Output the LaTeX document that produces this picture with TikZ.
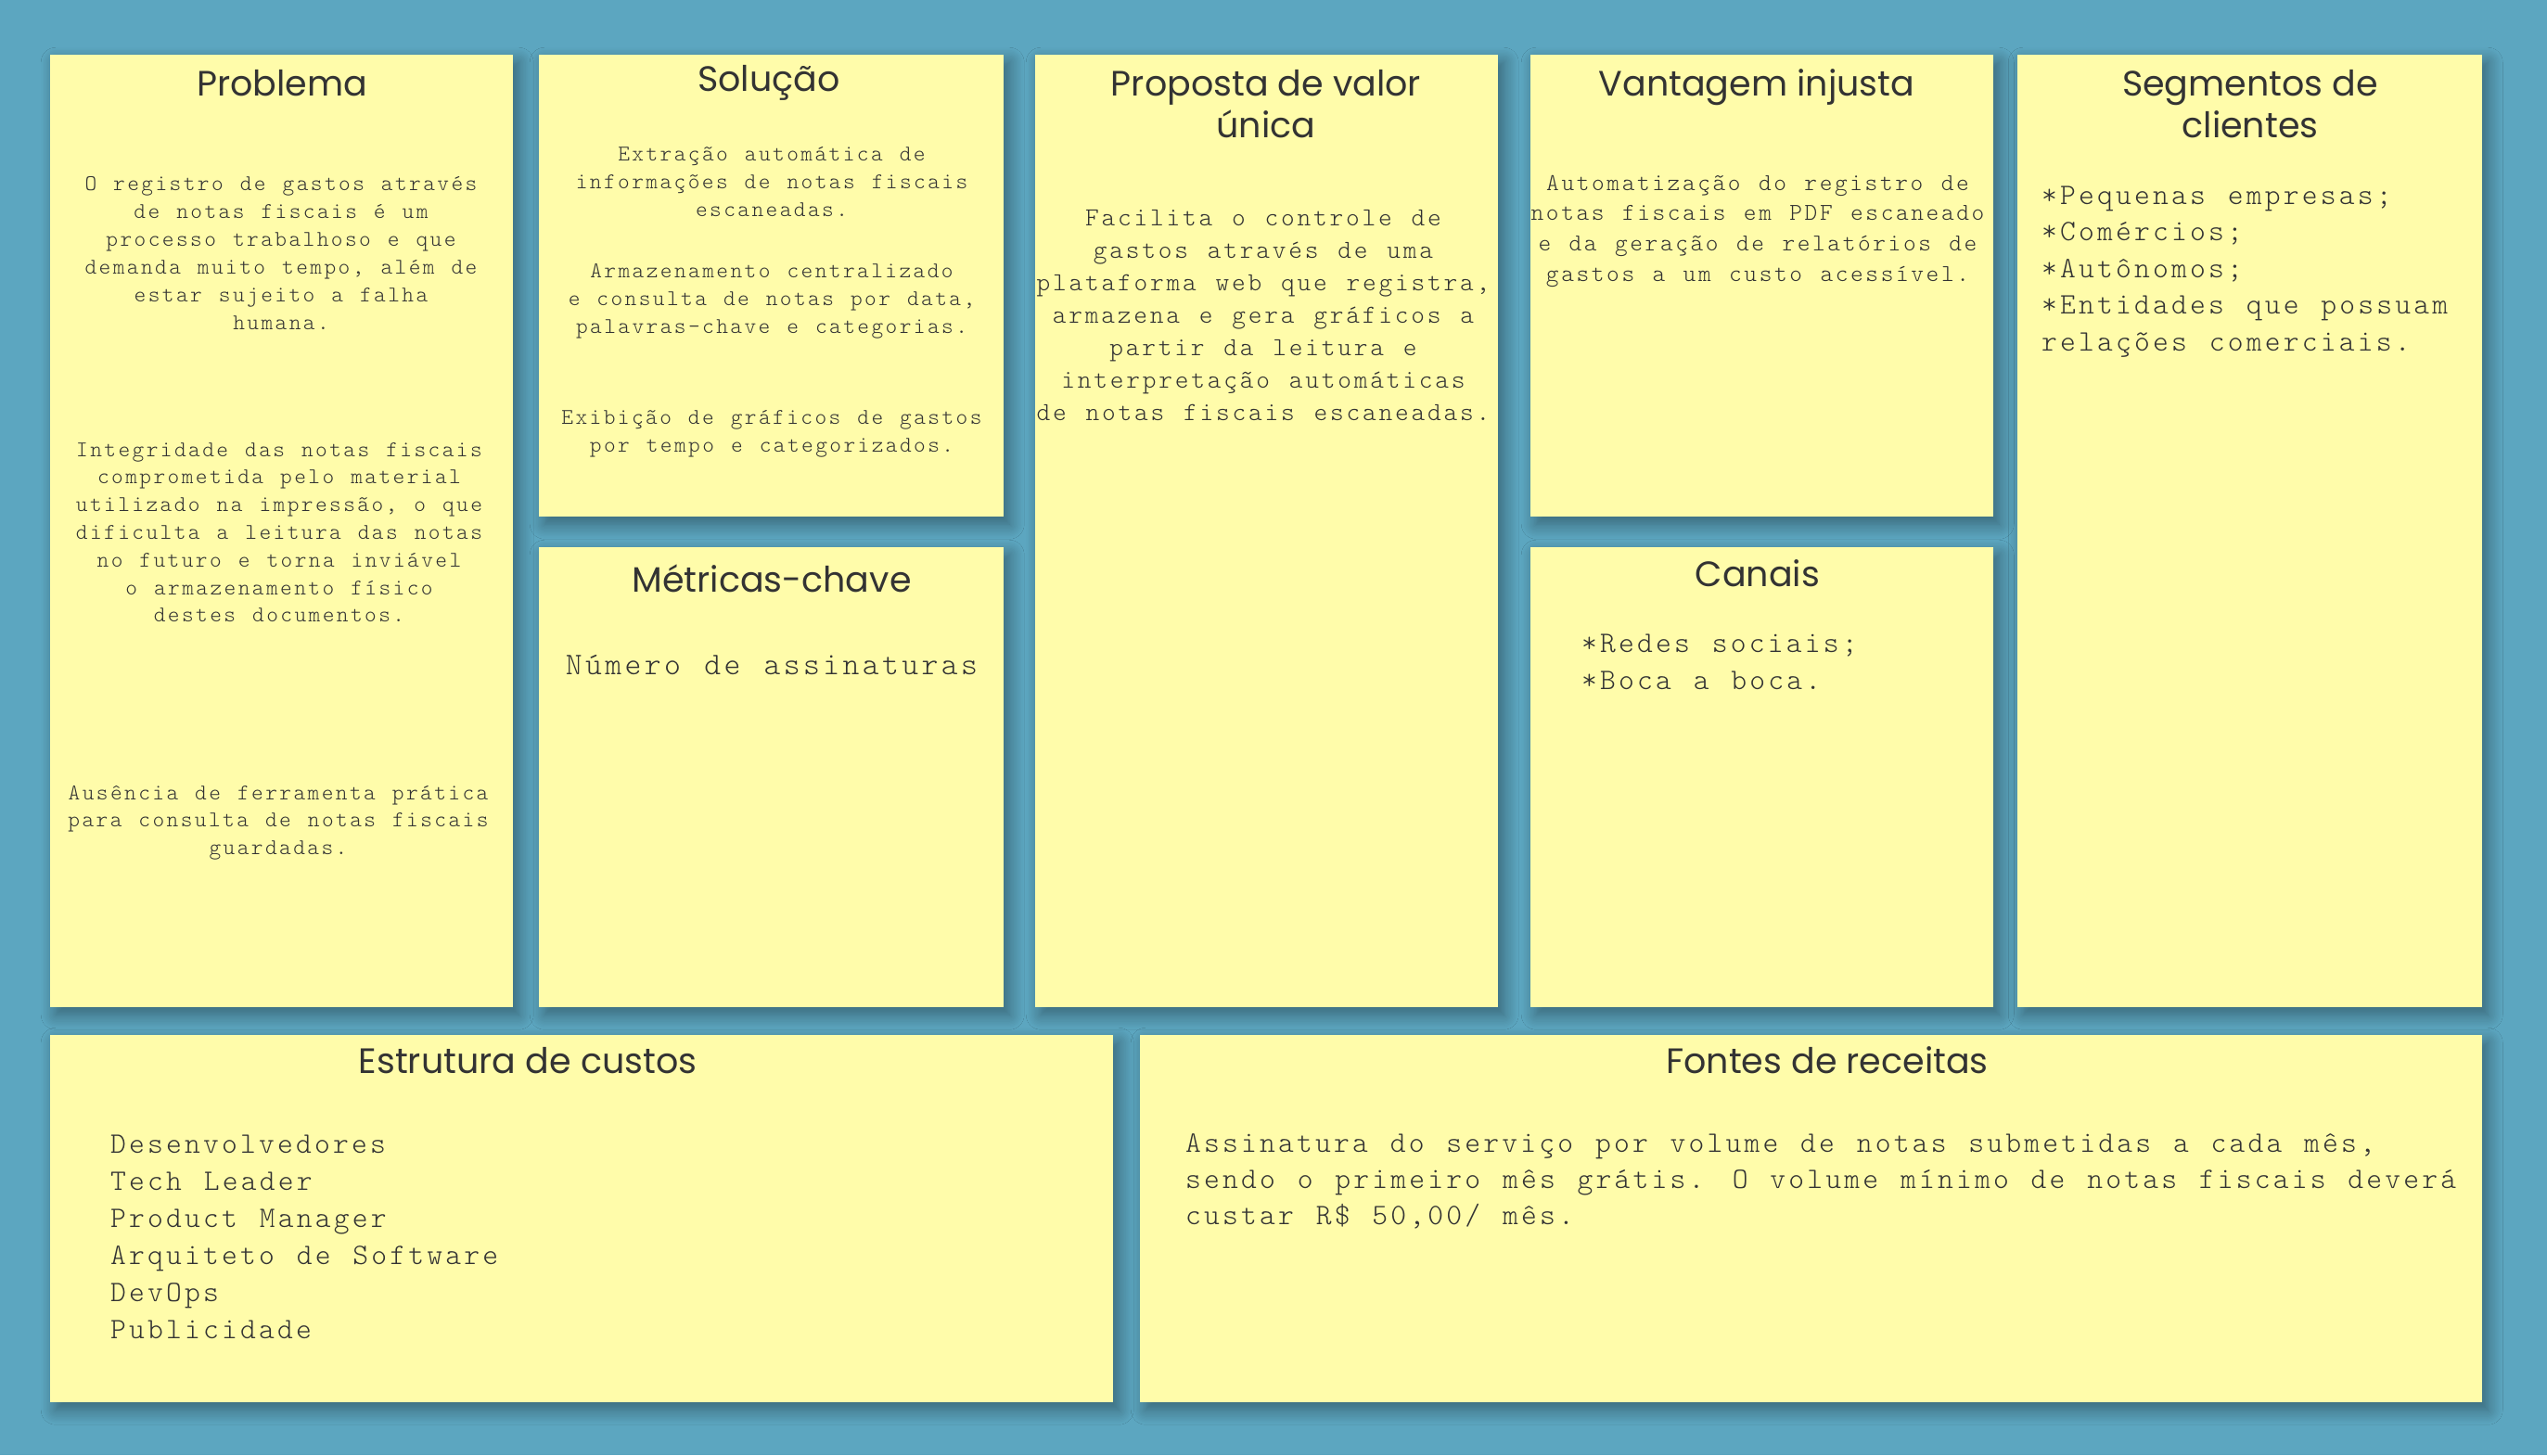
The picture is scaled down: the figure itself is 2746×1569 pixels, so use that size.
\documentclass[tikz,border=0pt]{standalone}
\usepackage{fontspec}
\usetikzlibrary{shadows.blur}
\newfontfamily\titlefont{Poppins}
\newfontfamily\cardmono{lmmonolt10-regular.otf}[LetterSpace=10, WordSpace=1.19]
\definecolor{bgblue}{RGB}{92,166,192}
\definecolor{cardyellow}{RGB}{255,252,170}
\definecolor{ink}{RGB}{51,51,51}
\newcommand\monosize[2]{\cardmono\fontsize{#1}{#2}\selectfont}
\newcommand\ctext[3]{\parbox[t]{800pt}{\centering\monosize{#1}{#2}#3}}
\newcommand\ltext[3]{\parbox[t]{1450pt}{\raggedright\monosize{#1}{#2}#3}}
\newcommand\ttl[1]{\parbox[t]{800pt}{\centering\titlefont\fontsize{38}{45}\selectfont #1}}
\tikzset{
  card/.style={fill=cardyellow, draw=none, inner sep=0pt, anchor=north west,
    blur shadow={shadow xshift=6pt, shadow yshift=-8pt, shadow blur radius=16pt, shadow blur steps=12, shadow opacity=40}},
  cardtitle/.style={inner sep=0pt, anchor=base, text=ink},
  cardbody/.style={inner sep=0pt, anchor=base, text=ink},
  cardlist/.style={inner sep=0pt, anchor=base west, text=ink},
}
\begin{document}
\begin{tikzpicture}[x=1pt,y=-1pt]
\useasboundingbox (0,0) rectangle (2746,1569);
\fill[bgblue] (0,0) rectangle (2746,1569);

% cards
\node[card, minimum width=499pt, minimum height=1027pt] (problema) at (54,59) {};
\node[card, minimum width=501pt, minimum height=498pt] (solucao) at (581,59) {};
\node[card, minimum width=501pt, minimum height=496pt] (metricas) at (581,590) {};
\node[card, minimum width=499pt, minimum height=1027pt] (proposta) at (1116,59) {};
\node[card, minimum width=499pt, minimum height=498pt] (vantagem) at (1650,59) {};
\node[card, minimum width=499pt, minimum height=496pt] (canais) at (1650,590) {};
\node[card, minimum width=501pt, minimum height=1027pt] (segmentos) at (2175,59) {};
\node[card, minimum width=1146pt, minimum height=396pt] (estrutura) at (54,1116) {};
\node[card, minimum width=1447pt, minimum height=396pt] (fontes) at (1229,1116) {};

% titles
\node[cardtitle] (tProblema) at (304,103) {\ttl{Problema}};
\node[cardtitle] (tSolucao) at (829,98) {\ttl{Solução}};
\node[cardtitle] (tMetricas) at (832,638) {\ttl{Métricas-chave}};
\node[cardtitle] (tProposta) at (1365,103) {\ttl{Proposta de valor\\única}};
\node[cardtitle] (tVantagem) at (1894,103) {\ttl{Vantagem injusta}};
\node[cardtitle] (tCanais) at (1895,632) {\ttl{Canais}};
\node[cardtitle] (tSegmentos) at (2426,103) {\ttl{Segmentos de\\clientes}};
\node[cardtitle] (tEstrutura) at (569,1157) {\ttl{Estrutura de custos}};
\node[cardtitle] (tFontes) at (1970,1157) {\ttl{Fontes de receitas}};

% Problema
\node[cardbody] (prob1) at (303,205) {\ctext{24.2}{30}{O registro de gastos através\\de notas fiscais é um\\processo trabalhoso e que\\demanda muito tempo, além de\\estar sujeito a falha\\humana.}};
\node[cardbody] (prob2) at (301,492) {\ctext{24.2}{29.8}{Integridade das notas fiscais\\comprometida pelo material\\utilizado na impressão, o que\\dificulta a leitura das notas\\no futuro e torna inviável\\o armazenamento físico\\destes documentos.}};
\node[cardbody] (prob3) at (300,862) {\ctext{24.2}{29.8}{Ausência de ferramenta prática\\para consulta de notas fiscais\\guardadas.}};

% Solucao
\node[cardbody] (sol1) at (832,173) {\ctext{24.2}{30}{Extração automática de\\informações de notas fiscais\\escaneadas.}};
\node[cardbody] (sol2) at (832,299) {\ctext{24.2}{30}{Armazenamento centralizado\\e consulta de notas por data,\\palavras-chave e categorias.}};
\node[cardbody] (sol3) at (832,457) {\ctext{24.2}{30}{Exibição de gráficos de gastos\\por tempo e categorizados.}};

% Metricas
\node[cardbody] (met1) at (832,727) {\ctext{34}{40}{Número de assinaturas}};

% Proposta
\node[cardbody] (prop1) at (1362,243) {\ctext{28}{35}{Facilita o controle de\\gastos através de uma\\plataforma web que registra,\\armazena e gera gráficos a\\partir da leitura e\\interpretação automáticas\\de notas fiscais escaneadas.}};

% Vantagem
\node[cardbody] (van1) at (1895,205) {\ctext{26.1}{32.7}{Automatização do registro de\\notas fiscais em PDF escaneado\\e da geração de relatórios de\\gastos a um custo acessível.}};

% Canais
\node[cardlist] (can1) at (1705,703) {\ltext{32}{40}{*Redes sociais;\\{}*Boca a boca.}};

% Segmentos
\node[cardlist] (seg1) at (2201,220) {\ltext{32}{39.5}{*Pequenas empresas;\\{}*Comércios;\\{}*Autônomos;\\{}*Entidades que possuam\\relações comerciais.}};

% Estrutura
\node[cardlist] (est1) at (119,1243) {\ltext{32}{40}{Desenvolvedores\\Tech Leader\\Product Manager\\Arquiteto de Software\\DevOps\\Publicidade}};

% Fontes
\node[cardlist] (fon1) at (1278,1242) {\ltext{32}{39}{Assinatura do serviço por volume de notas submetidas a cada mês,\\sendo o primeiro mês grátis. O volume mínimo de notas fiscais deverá\\custar R\$ 50,00/ mês.}};
\end{tikzpicture}
\end{document}
